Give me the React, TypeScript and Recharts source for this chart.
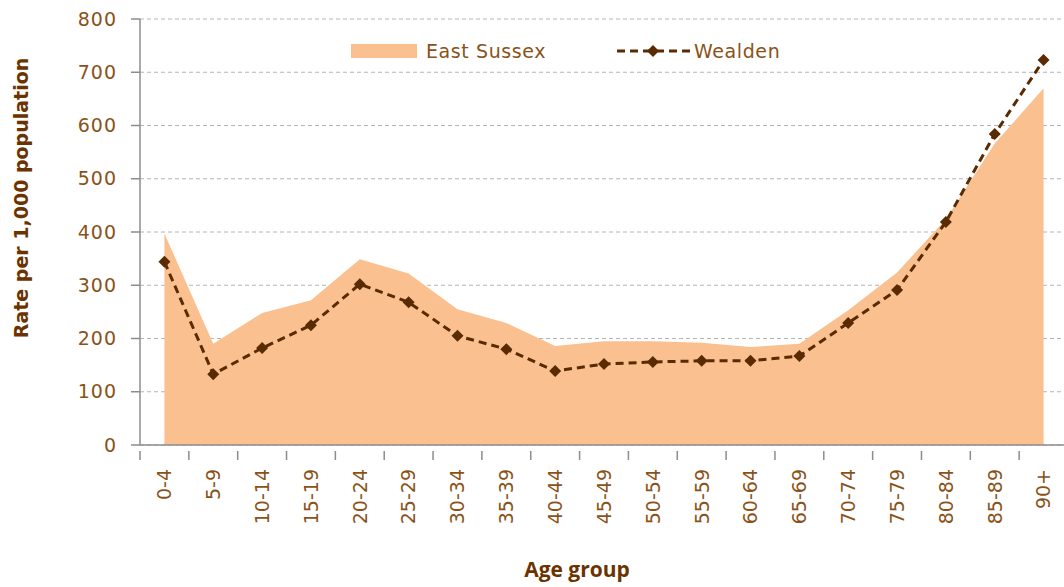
import { ComposedChart, Area, Line, XAxis, YAxis, CartesianGrid } from 'recharts';

const ageGroups = ['0-4', '5-9', '10-14', '15-19', '20-24', '25-29', '30-34', '35-39', '40-44', '45-49',
  '50-54', '55-59', '60-64', '65-69', '70-74', '75-79', '80-84', '85-89', '90+'];
const eastSussex = [397, 190, 248, 272, 349, 322, 255, 229, 186, 195, 195, 192, 184, 190, 253, 324, 424, 566, 670];
const wealden = [344, 133, 182, 225, 302, 268, 205, 180, 139, 152, 156, 158, 158, 167, 229, 291, 419, 584, 723];
const yTicks = [0, 100, 200, 300, 400, 500, 600, 700, 800];

const data = ageGroups.map((g, i) => ({ g, es: eastSussex[i], wd: wealden[i] }));

const TICK_COLOR = '#8a5218';
const TITLE_COLOR = '#6b3300';
const LINE_COLOR = '#5a2a00';
const AREA_COLOR = '#fac090';
const AXIS_COLOR = '#8c8c8c';
const FONT = '"DejaVu Sans", Verdana, sans-serif';
const TICK_MARGIN = 18;
const TICK_SIZE = 9;

function Diamond(props: any) {
  const { cx, cy, index } = props;
  if (cx == null || cy == null) return null;
  const r = 6;
  return (
    <polygon key={index} points={`${cx},${cy - r} ${cx + r},${cy} ${cx},${cy + r} ${cx - r},${cy}`} fill={LINE_COLOR} />
  );
}

// rotated label, plus Excel-style tick marks on the category boundaries
function AgeTick(props: any) {
  const { x, y, payload, index, width, visibleTicksCount } = props;
  const half = width / visibleTicksCount / 2;
  const top = y - TICK_MARGIN;
  const last = index === visibleTicksCount - 1;
  return (
    <g>
      <line x1={x - half} x2={x - half} y1={top} y2={top + TICK_SIZE} stroke={AXIS_COLOR} strokeWidth={1.5} />
      {last && <line x1={x + half} x2={x + half} y1={top} y2={top + TICK_SIZE} stroke={AXIS_COLOR} strokeWidth={1.5} />}
      <text x={x} y={y} transform={`rotate(-90, ${x}, ${y})`} dy="0.36em" textAnchor="end"
        fill={TICK_COLOR} fontSize={19} fontFamily={FONT}>
        {payload.value}
      </text>
    </g>
  );
}

function LegendBox() {
  return (
    <div style={{ position: 'absolute', left: 0, top: 44, width: 1064, height: 20, fontFamily: FONT, fontSize: 19,
      letterSpacing: 0.6, color: TICK_COLOR, pointerEvents: 'none' }}>
      <div style={{ position: 'absolute', left: 351, top: 0, width: 66, height: 14, background: AREA_COLOR }} />
      <span style={{ position: 'absolute', left: 426, top: -5, lineHeight: '24px' }}>East Sussex</span>
      <svg style={{ position: 'absolute', left: 615, top: -4 }} width={78} height={22}>
        <line x1={2} y1={11} x2={76} y2={11} stroke={LINE_COLOR} strokeWidth={3} strokeDasharray="8 5" />
        <polygon points="38,5 44,11 38,17 32,11" fill={LINE_COLOR} />
      </svg>
      <span style={{ position: 'absolute', left: 694, top: -5, lineHeight: '24px' }}>Wealden</span>
    </div>
  );
}

export default function App() {
  return (
    <div style={{ position: 'absolute', left: 0, top: 0, width: 1064, height: 587, overflow: 'hidden', background: '#fff' }}>
      <ComposedChart width={1070} height={587} data={data} margin={{ top: 19, right: 2, bottom: 0, left: 0 }}>
        <CartesianGrid vertical={false} stroke="#b4b4b4" strokeDasharray="4 3" />
        <XAxis dataKey="g" scale="band" height={142} tickLine={false} interval={0}
          axisLine={{ stroke: AXIS_COLOR, strokeWidth: 1.5 }}
          tick={<AgeTick />} tickMargin={TICK_MARGIN}
          label={{ value: 'Age group', position: 'insideBottom', offset: 10, dx: -27, fill: TITLE_COLOR, fontSize: 21,
            fontWeight: 'bold', fontFamily: '"Open Sans", sans-serif' }} />
        <YAxis domain={[0, 800]} ticks={yTicks} width={140} tickSize={TICK_SIZE} tickMargin={14}
          stroke={AXIS_COLOR} strokeWidth={1.5}
          tick={{ fill: TICK_COLOR, fontSize: 19, fontFamily: FONT, letterSpacing: 1 }}
          label={{ value: 'Rate per 1,000 population', angle: -90, position: 'insideLeft', dx: 16, dy: -34,
            fill: TITLE_COLOR, fontSize: 19, fontWeight: 'bold', fontFamily: FONT, style: { textAnchor: 'middle' } }} />
        <Area type="linear" dataKey="es" name="East Sussex" fill={AREA_COLOR} fillOpacity={1}
          stroke="none" isAnimationActive={false} />
        <Line type="linear" dataKey="wd" name="Wealden" stroke={LINE_COLOR} strokeWidth={3}
          strokeDasharray="8 5" dot={<Diamond />} activeDot={false} isAnimationActive={false} />
      </ComposedChart>
      <LegendBox />
    </div>
  );
}
